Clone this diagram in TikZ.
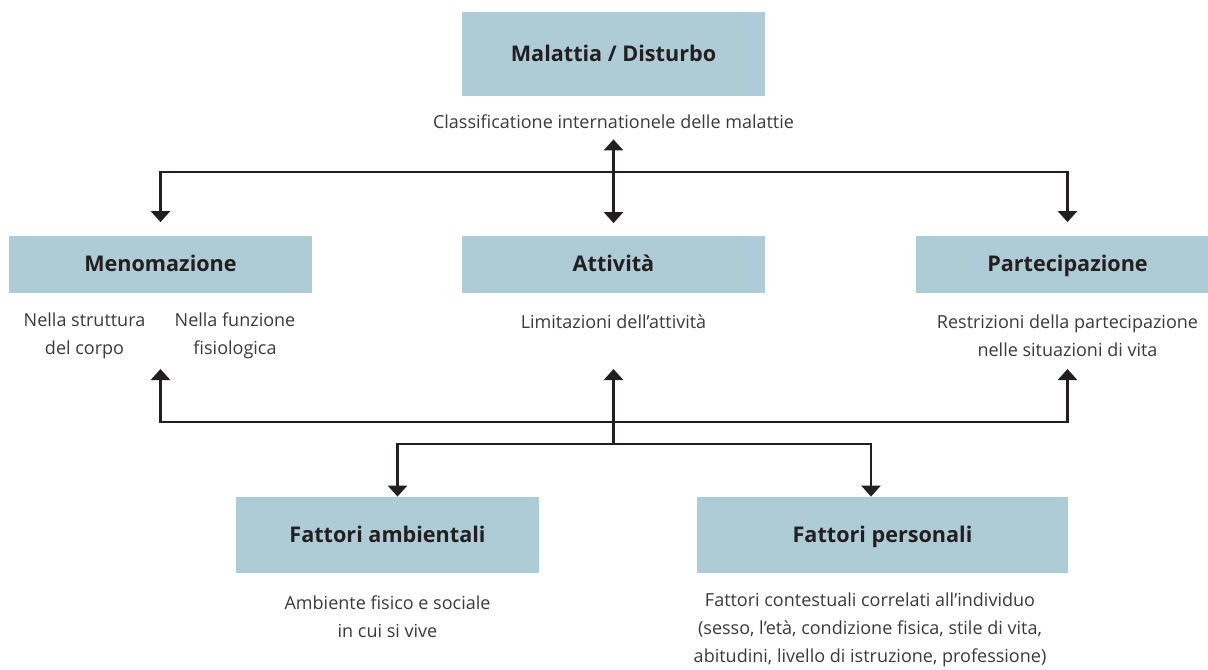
\documentclass[tikz,border=0pt]{standalone}
\usepackage{fontspec}
\setmainfont{Open Sans}
\usetikzlibrary{arrows.meta}
\definecolor{boxblue}{HTML}{AECCD5}
\definecolor{inkgray}{HTML}{231F20}
\definecolor{txtgray}{HTML}{3A3A3A}
\tikzset{
  box/.style={fill=boxblue, minimum width=151.5pt, minimum height=#1, inner sep=0pt,
    text height=7.8pt, text depth=0pt,
    font=\fontsize{10.8}{12}\selectfont\bfseries, text=inkgray},
  note/.style={align=center, inner sep=1pt, font=\fontsize{9}{14}\selectfont, text=txtgray},
  link/.style={line width=1.3pt, draw=inkgray},
  tip/.style={link, -{Triangle[width=9.5pt,length=5.5pt]}},
}
\begin{document}
\begin{tikzpicture}[x=0.5pt,y=-0.5pt]
  \useasboundingbox (0,0) rectangle (1208,669);

  % disease
  \node[box=42pt] (malattia) at (613.5,54) {Malattia / Disturbo};
  \node[note] (icd) at (613.5,122) {Classificatione internationele delle malattie};

  % middle row
  \node[box=28.5pt] (menom) at (160.5,264) {Menomazione};
  \node[box=28.5pt] (attiv) at (613.5,264) {Attività};
  \node[box=28.5pt] (partec) at (1067.5,264) {Partecipazione};

  \node[note] (strutt) at (84.5,336) {Nella struttura\\del corpo};
  \node[note] (funz) at (235,336) {Nella funzione\\fisiologica};
  \node[note] (limit) at (613.5,322) {Limitazioni dell’attività};
  \node[note] (restr) at (1067.5,336) {Restrizioni della partecipazione\\nelle situazioni di vita};

  % context
  \node[box=38pt] (ambient) at (387.5,535) {Fattori ambientali};
  \node[box=38pt, minimum width=185.5pt] (person) at (882.5,535) {Fattori personali};

  \node[note] (ambtxt) at (387.5,617) {Ambiente fisico e sociale\\in cui si vive};
  \node[note] (perstxt) at (870,630) {Fattori contestuali correlati all’individuo\\(sesso, l’età, condizione fisica, stile di vita,\\abitudini, livello di istruzione, professione)};

  % top connectors
  \coordinate (hubtop) at (613.5,172);
  \draw[tip, shorten >=6.5pt] (hubtop) -| (menom.north);
  \draw[tip, shorten >=6.5pt] (hubtop) -| (partec.north);
  \draw[link, {Triangle[width=9.5pt,length=5.5pt]}-{Triangle[width=9.5pt,length=5.5pt]},
    shorten <=4pt, shorten >=6pt] (icd.south) -- (attiv.north);

  % bottom connectors
  \coordinate (hubbot) at (613.5,422);
  \coordinate (hubenv) at (613.5,444);
  \coordinate (upmen) at (160.5,369);
  \coordinate (upatt) at (613.5,369);
  \coordinate (uppar) at (1067.5,369);
  \draw[tip] (hubbot) -| (upmen);
  \draw[tip] (hubbot) -| (uppar);
  \draw[tip] (hubenv) -- (upatt);
  \draw[tip] (hubenv) -| ([xshift=5pt]ambient.north);
  \draw[tip] (hubenv) -| ([xshift=-5.75pt]person.north);
\end{tikzpicture}
\end{document}
